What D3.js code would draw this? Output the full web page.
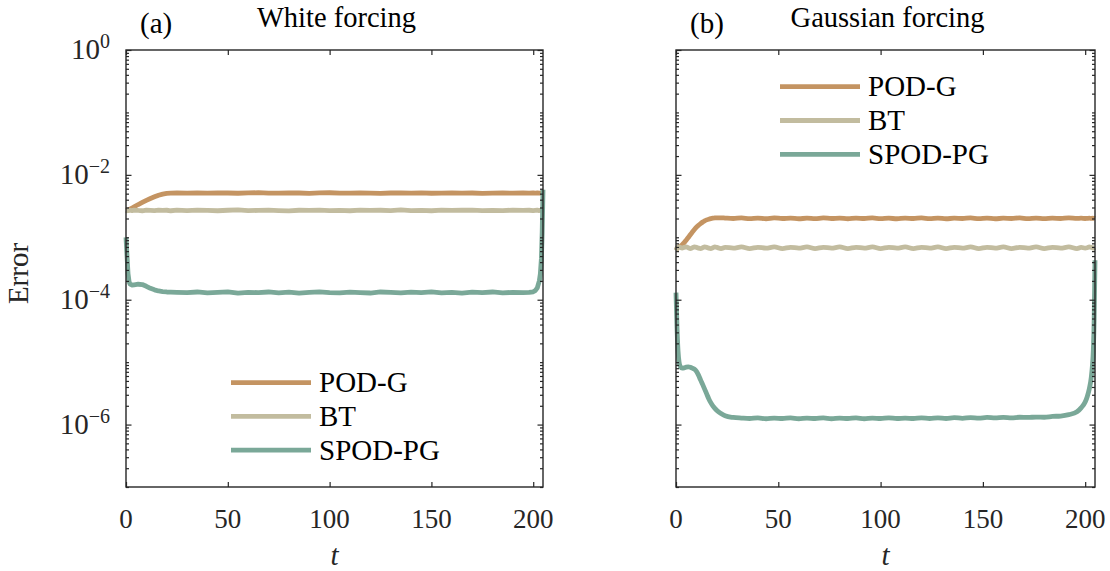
<!DOCTYPE html>
<html>
<head>
<meta charset="utf-8">
<script src="https://cdn.jsdelivr.net/npm/d3@7"></script>
<style>
  html, body { margin: 0; padding: 0; background: #fff; }
  svg { display: block; }
  svg text { font-family: 'Liberation Serif', 'DejaVu Serif', serif; }
</style>
</head>
<body>
<svg id="chart" width="1110" height="571"></svg>
<script>
// ---- data -------------------------------------------------------------
const seriesNames = ["POD-G", "BT", "SPOD-PG"];
const seriesColors = ["#c49462", "#c2bc9f", "#7aa898"];

const panelTitles = ["White forcing", "Gaussian forcing"];
const panelTags = ["(a)", "(b)"];

const xTicks = [0, 50, 100, 150, 200];
const yMajorTicks = [1, 1e-2, 1e-4, 1e-6];
const yTickExponents = ["0", "\u22122", "\u22124", "\u22126"];

// Panel (a): white forcing
const tA = [0,0.5,1,1.5,2,3,4,6,8,10,12,14,16,18,20,22,25,
  30,35,40,45,50,55,60,65,70,75,80,85,90,95,100,105,110,115,120,125,130,135,140,145,150,155,160,165,170,175,180,185,190,195,
  198,200,201,202,203,203.5,204,204.4,204.8];

const podgA = [2.70e-3,2.72e-3,2.74e-3,2.77e-3,2.82e-3,2.95e-3,3.08e-3,3.35e-3,3.62e-3,3.90e-3,4.18e-3,4.45e-3,4.72e-3,4.92e-3,5.05e-3,5.10e-3,5.12e-3,
  5.08e-3,5.14e-3,5.10e-3,5.16e-3,5.12e-3,5.07e-3,5.13e-3,5.18e-3,5.11e-3,5.09e-3,
  5.15e-3,5.12e-3,5.06e-3,5.13e-3,5.17e-3,5.10e-3,5.08e-3,5.14e-3,5.11e-3,5.05e-3,
  5.12e-3,5.16e-3,5.09e-3,5.13e-3,5.07e-3,5.11e-3,5.15e-3,5.08e-3,5.12e-3,5.04e-3,
  5.10e-3,5.14e-3,5.09e-3,5.12e-3,
  5.08e-3,5.13e-3,5.10e-3,5.12e-3,5.09e-3,5.11e-3,5.14e-3,5.10e-3,5.12e-3];

const btA = [2.70e-3,2.66e-3,2.72e-3,2.68e-3,2.71e-3,2.67e-3,2.73e-3,2.69e-3,2.66e-3,2.72e-3,2.70e-3,2.67e-3,2.73e-3,2.69e-3,2.71e-3,2.66e-3,2.72e-3,
  2.68e-3,2.73e-3,2.69e-3,2.66e-3,2.71e-3,2.74e-3,2.67e-3,2.70e-3,2.72e-3,2.68e-3,
  2.65e-3,2.71e-3,2.69e-3,2.73e-3,2.67e-3,2.70e-3,2.66e-3,2.72e-3,2.69e-3,2.71e-3,
  2.67e-3,2.74e-3,2.68e-3,2.70e-3,2.66e-3,2.72e-3,2.69e-3,2.71e-3,2.73e-3,2.67e-3,
  2.70e-3,2.68e-3,2.72e-3,2.69e-3,
  2.71e-3,2.67e-3,2.70e-3,2.73e-3,2.68e-3,2.71e-3,2.69e-3,2.72e-3,2.70e-3];

const spodA = [1.0e-3,5.0e-4,2.6e-4,1.95e-4,1.78e-4,1.72e-4,1.73e-4,1.77e-4,1.75e-4,1.64e-4,1.52e-4,1.44e-4,1.38e-4,1.35e-4,1.33e-4,1.32e-4,1.31e-4,
  1.30e-4,1.33e-4,1.29e-4,1.31e-4,1.34e-4,1.28e-4,1.31e-4,1.30e-4,1.33e-4,1.29e-4,
  1.32e-4,1.28e-4,1.31e-4,1.34e-4,1.30e-4,1.29e-4,1.32e-4,1.30e-4,1.28e-4,1.33e-4,
  1.31e-4,1.29e-4,1.32e-4,1.30e-4,1.34e-4,1.29e-4,1.31e-4,1.28e-4,1.32e-4,1.30e-4,
  1.33e-4,1.29e-4,1.31e-4,1.30e-4,
  1.31e-4,1.34e-4,1.40e-4,1.55e-4,2.0e-4,2.6e-4,4.5e-4,1.2e-3,5.8e-3];

// Panel (b): Gaussian forcing
const tB = [0,0.5,1,1.5,2,3,4,5,6,7,8,9,10,11,12,13,14,15,16,17,18,19,20,22,24,
  28,32,36,40,44,48,52,56,60,64,68,72,76,80,84,88,92,96,100,104,108,112,116,120,124,128,132,136,140,144,148,152,156,160,164,168,172,176,180,184,188,192,196,
  198,200,201,202,203,203.5,204,204.4,204.8];

const podgB = [6.2e-4,6.6e-4,6.9e-4,7.1e-4,7.2e-4,7.6e-4,8.2e-4,9.0e-4,9.9e-4,1.10e-3,1.21e-3,1.33e-3,1.45e-3,1.56e-3,1.66e-3,1.75e-3,1.83e-3,1.90e-3,1.95e-3,1.99e-3,2.02e-3,2.04e-3,2.05e-3,2.05e-3,2.03e-3,
  2.00e-3,2.04e-3,1.99e-3,2.03e-3,1.98e-3,2.04e-3,2.00e-3,2.03e-3,1.98e-3,2.02e-3,
  1.99e-3,2.04e-3,2.00e-3,2.03e-3,1.98e-3,2.03e-3,2.00e-3,2.04e-3,1.99e-3,2.02e-3,
  1.98e-3,2.03e-3,2.00e-3,2.04e-3,1.99e-3,2.03e-3,1.98e-3,2.02e-3,2.00e-3,2.04e-3,
  1.99e-3,2.03e-3,1.98e-3,2.02e-3,2.00e-3,2.04e-3,1.99e-3,2.03e-3,1.99e-3,2.02e-3,
  2.00e-3,2.04e-3,2.01e-3,
  2.02e-3,2.00e-3,2.01e-3,2.02e-3,2.01e-3,2.02e-3,2.01e-3,2.02e-3,2.01e-3];

const btB = [6.2e-4,6.7e-4,6.9e-4,7.0e-4,6.9e-4,6.7e-4,6.9e-4,7.0e-4,6.8e-4,6.6e-4,6.8e-4,7.0e-4,6.9e-4,6.7e-4,6.6e-4,6.8e-4,7.0e-4,6.9e-4,6.7e-4,6.6e-4,6.8e-4,7.0e-4,6.9e-4,6.6e-4,6.9e-4,
  6.7e-4,7.0e-4,6.6e-4,6.9e-4,6.7e-4,7.0e-4,6.6e-4,6.9e-4,6.7e-4,7.0e-4,
  6.6e-4,6.9e-4,6.7e-4,7.0e-4,6.6e-4,6.9e-4,6.7e-4,7.0e-4,6.6e-4,6.9e-4,
  6.7e-4,7.0e-4,6.6e-4,6.9e-4,6.7e-4,7.0e-4,6.6e-4,6.9e-4,6.7e-4,7.0e-4,
  6.6e-4,6.9e-4,6.7e-4,7.0e-4,6.6e-4,6.9e-4,6.7e-4,7.0e-4,6.6e-4,6.9e-4,
  6.7e-4,7.0e-4,6.6e-4,
  6.9e-4,6.7e-4,6.8e-4,7.0e-4,6.9e-4,6.8e-4,6.7e-4,6.8e-4,6.9e-4];

const spodB = [1.3e-4,3.5e-5,1.5e-5,1.0e-5,8.6e-6,8.0e-6,8.1e-6,8.3e-6,8.4e-6,8.3e-6,8.0e-6,7.7e-6,7.1e-6,6.2e-6,5.2e-6,4.4e-6,3.7e-6,3.1e-6,2.6e-6,2.25e-6,2.0e-6,1.82e-6,1.68e-6,1.50e-6,1.38e-6,
  1.30e-6,1.27e-6,1.25e-6,1.28e-6,1.24e-6,1.27e-6,1.25e-6,1.28e-6,1.24e-6,1.27e-6,
  1.25e-6,1.28e-6,1.24e-6,1.27e-6,1.25e-6,1.28e-6,1.24e-6,1.27e-6,1.25e-6,1.28e-6,
  1.25e-6,1.27e-6,1.25e-6,1.28e-6,1.25e-6,1.28e-6,1.25e-6,1.29e-6,1.26e-6,1.29e-6,
  1.27e-6,1.30e-6,1.28e-6,1.30e-6,1.28e-6,1.31e-6,1.30e-6,1.32e-6,1.31e-6,1.35e-6,
  1.37e-6,1.44e-6,1.60e-6,
  1.85e-6,2.3e-6,2.8e-6,3.7e-6,5.8e-6,8.5e-6,1.6e-5,5.0e-5,4.3e-4];

// ---- layout -----------------------------------------------------------
const panels = [
  { left: 126, right: 543, t: tA, series: [podgA, btA, spodA], curve: d3.curveLinear,
    showYLabels: true, legend: { x0: 231, x1: 311, y0: 382.7, dy: 33.7 } },
  { left: 676, right: 1095, t: tB, series: [podgB, btB, spodB], curve: d3.curveMonotoneX,
    showYLabels: false, legend: { x0: 780, x1: 860, y0: 86.7, dy: 33.8 } }
];
const plotTop = 50, plotBottom = 487;
const axisColor = "#262626";
const tickFont = 27;
const labelFont = 29;
const serifFont = "'Liberation Serif', 'DejaVu Serif', serif";

const svg = d3.select("#chart");

panels.forEach((p, pi) => {
  const x = d3.scaleLinear().domain([0, 204.8]).range([p.left, p.right]);
  const y = d3.scaleLog().domain([1e-7, 1]).range([plotBottom, plotTop]);
  const g = svg.append("g");

  // data lines
  const line = d3.line()
    .x(d => x(d[0]))
    .y(d => y(d[1]))
    .curve(p.curve);
  p.series.forEach((vals, si) => {
    const pts = p.t.map((t, i) => [t, vals[i]]).filter(d => d[1] !== undefined);
    g.append("path")
      .datum(pts)
      .attr("fill", "none")
      .attr("stroke", seriesColors[si])
      .attr("stroke-width", 4.8)
      .attr("stroke-linejoin", "round")
      .attr("d", line);
  });

  // minor y ticks (2..9 per decade, plus odd decades)
  const minorY = [];
  for (let e = -7; e < 0; e++) {
    for (let m = 1; m <= 9; m++) {
      const v = m * Math.pow(10, e);
      if (m === 1 && e % 2 === 0) continue;
      minorY.push(v);
    }
  }

  const styleAxis = sel => {
    sel.select(".domain").remove();
    sel.selectAll("line").attr("stroke", axisColor).attr("stroke-width", 1.2);
    sel.selectAll("text").remove();
  };

  g.append("g").attr("transform", `translate(${p.left},0)`)
    .call(d3.axisLeft(y).tickValues(minorY).tickSizeInner(-3).tickSizeOuter(0)).call(styleAxis);
  g.append("g").attr("transform", `translate(${p.right},0)`)
    .call(d3.axisRight(y).tickValues(minorY).tickSizeInner(-3).tickSizeOuter(0)).call(styleAxis);
  g.append("g").attr("transform", `translate(${p.left},0)`)
    .call(d3.axisLeft(y).tickValues(yMajorTicks).tickSizeInner(-5.5).tickSizeOuter(0)).call(styleAxis);
  g.append("g").attr("transform", `translate(${p.right},0)`)
    .call(d3.axisRight(y).tickValues(yMajorTicks).tickSizeInner(-5.5).tickSizeOuter(0)).call(styleAxis);
  g.append("g").attr("transform", `translate(0,${plotBottom})`)
    .call(d3.axisBottom(x).tickValues(xTicks).tickSizeInner(-5).tickSizeOuter(0)).call(styleAxis);
  g.append("g").attr("transform", `translate(0,${plotTop})`)
    .call(d3.axisTop(x).tickValues(xTicks).tickSizeInner(-5).tickSizeOuter(0)).call(styleAxis);

  // frame
  g.append("rect")
    .attr("x", p.left).attr("y", plotTop)
    .attr("width", p.right - p.left).attr("height", plotBottom - plotTop)
    .attr("fill", "none").attr("stroke", axisColor).attr("stroke-width", 1.4);

  const addText = (parent, size) => parent.append("text")
    .attr("font-family", serifFont)
    .attr("font-size", size);

  // x tick labels
  xTicks.forEach(v => {
    addText(g, tickFont)
      .attr("x", x(v)).attr("y", 528)
      .attr("text-anchor", "middle")
      .attr("fill", axisColor)
      .text(v);
  });

  // y tick labels, powers of ten
  if (p.showYLabels) {
    yMajorTicks.forEach((v, i) => {
      const t = addText(g, 29)
        .attr("x", 110).attr("y", y(v) + 9)
        .attr("text-anchor", "end")
        .attr("fill", axisColor);
      t.append("tspan").text("10");
      t.append("tspan").attr("dy", -11).attr("font-size", 20).text(yTickExponents[i]);
    });
    addText(svg, labelFont)
      .attr("transform", `translate(28,${(plotTop + plotBottom) / 2 + 5}) rotate(-90)`)
      .attr("text-anchor", "middle")
      .attr("fill", axisColor)
      .text("Error");
  }

  // x axis label
  addText(g, labelFont)
    .attr("x", (p.left + p.right) / 2).attr("y", 565)
    .attr("text-anchor", "middle")
    .attr("font-style", "italic").attr("fill", axisColor)
    .text("t");

  // titles
  addText(g, 28.5)
    .attr("x", (p.left + p.right) / 2 + 2).attr("y", 27)
    .attr("text-anchor", "middle")
    .attr("fill", "#000")
    .text(panelTitles[pi]);
  addText(g, labelFont)
    .attr("x", p.left + 14).attr("y", 33)
    .attr("fill", "#000")
    .text(panelTags[pi]);

  // legend
  seriesNames.forEach((name, si) => {
    const ly = p.legend.y0 + si * p.legend.dy;
    g.append("line")
      .attr("x1", p.legend.x0).attr("x2", p.legend.x1)
      .attr("y1", ly).attr("y2", ly)
      .attr("stroke", seriesColors[si]).attr("stroke-width", 4.8);
    addText(g, labelFont)
      .attr("x", p.legend.x1 + 8).attr("y", ly + 9.5)
      .attr("fill", "#000")
      .text(name);
  });
});
</script>
</body>
</html>
